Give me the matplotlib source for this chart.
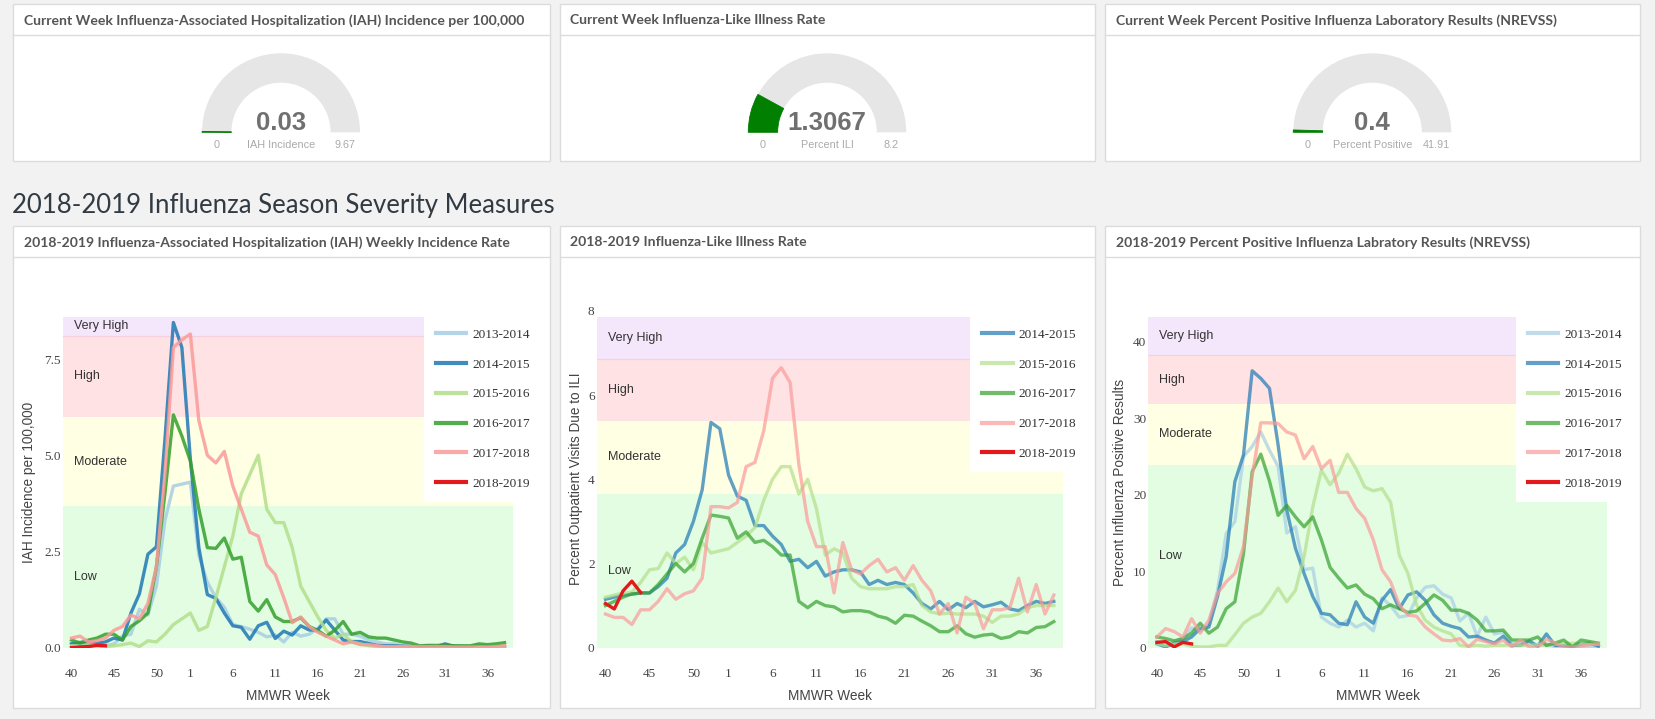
import matplotlib
matplotlib.use('Agg')
import matplotlib.pyplot as plt
from matplotlib.patches import Rectangle, Wedge

W, H = 1655, 719

# x axis: MMWR weeks 40..53 then 1..38
week_labels = list(range(40, 54)) + list(range(1, 39))
tick_weeks = [40, 45, 50, 1, 6, 11, 16, 21, 26, 31, 36]

seasons = ['2013-2014', '2014-2015', '2015-2016', '2016-2017', '2017-2018', '2018-2019']
season_colors = ['#a6cee3', '#1f78b4', '#b2df8a', '#33a02c', '#fb9a99', '#e31a1c']

# Gauges (current week)
gauge_titles = ['Current Week Influenza-Associated Hospitalization (IAH) Incidence per 100,000',
                'Current Week Influenza-Like Illness Rate',
                'Current Week Percent Positive Influenza Laboratory Results (NREVSS)']
gauge_values = [0.03, 1.3067, 0.4]
gauge_max = [9.67, 8.2, 41.91]
gauge_labels = ['IAH Incidence', 'Percent ILI', 'Percent Positive']

# Chart 1: IAH weekly incidence rate
iah = {
    '2013-2014': [0.1, 0.15, 0.18, 0.1, 0.05, 0.1, 0.3, 0.35, 1.0, 0.85, 1.6, 3.3, 4.2, 4.25, 4.3, 2.4, 1.7, 1.3, 1.05, 0.6,
                  0.55, 0.48, 0.4, 0.28, 0.33, 0.15, 0.4, 0.3, 0.35, 0.5, 0.75, 0.75, 0.35, 0.35, 0.3, 0.2, 0.15, 0.1, 0.1, 0.05,
                  0.04, 0.03, 0.03, 0.03, 0.03, 0.03, 0.03, 0.02, 0.02, 0.02, 0.03, 0.03],
    '2014-2015': [0.1, 0.12, 0.1, 0.12, 0.15, 0.25, 0.2, 0.9, 1.4, 2.43, 2.62, 5.4, 8.45, 7.8, 4.9, 2.6, 1.38, 1.28, 0.9, 0.57,
                  0.53, 0.22, 0.57, 0.66, 0.24, 0.43, 0.33, 0.57, 0.46, 0.46, 0.72, 0.46, 0.2, 0.16, 0.16, 0.11, 0.06, 0.05, 0.05, 0.04,
                  0.03, 0.03, 0.05, 0.03, 0.1, 0.04, 0.03, 0.03, 0.04, 0.03, 0.03, 0.03],
    '2015-2016': [0.05, 0.05, 0.08, 0.05, 0.03, 0.05, 0.08, 0.12, 0.03, 0.18, 0.15, 0.35, 0.6, 0.75, 0.9, 0.45, 0.55, 1.3, 2.1, 2.9,
                  4.0, 4.5, 5.0, 3.6, 3.25, 3.25, 2.6, 1.6, 1.2, 0.8, 0.45, 0.25, 0.35, 0.15, 0.1, 0.05, 0.03, 0.02, 0.02, 0.02,
                  0.02, 0.02, 0.02, 0.02, 0.02, 0.02, 0.02, 0.02, 0.02, 0.02, 0.02, 0.03],
    '2016-2017': [0.2, 0.12, 0.2, 0.25, 0.35, 0.35, 0.2, 0.55, 0.7, 0.9, 2.1, 4.0, 6.05, 5.5, 4.85, 3.6, 2.6, 2.58, 2.85, 2.3,
                  2.35, 1.2, 0.95, 1.25, 0.8, 0.68, 0.68, 0.78, 0.55, 0.45, 0.3, 0.45, 0.68, 0.35, 0.4, 0.28, 0.25, 0.25, 0.2, 0.15,
                  0.12, 0.05, 0.06, 0.06, 0.06, 0.05, 0.05, 0.05, 0.1, 0.08, 0.1, 0.13],
    '2017-2018': [0.25, 0.3, 0.15, 0.18, 0.25, 0.45, 0.55, 0.85, 0.75, 1.15, 2.1, 4.5, 7.8, 8.0, 8.15, 5.9, 5.0, 4.8, 5.1, 4.2,
                  3.6, 3.0, 2.9, 2.15, 1.9, 1.3, 0.65, 0.8, 0.55, 0.4, 0.3, 0.2, 0.1, 0.15, 0.08, 0.08, 0.05, 0.03, 0.03, 0.03,
                  0.03, 0.03, 0.03, 0.03, 0.03, 0.02, 0.02, 0.02, 0.02, 0.02, 0.03, 0.05],
    '2018-2019': [0.0, 0.02, 0.03, 0.06, 0.05],
}

# Chart 2: ILI rate
ili = {
    '2014-2015': [1.15, 1.2, 1.25, 1.27, 1.3, 1.3, 1.45, 1.65, 2.25, 2.45, 3.0, 3.75, 5.35, 5.2, 4.1, 3.6, 3.5, 2.9, 2.9, 2.65,
                  2.45, 2.05, 2.1, 1.9, 2.05, 1.7, 1.8, 1.85, 1.85, 1.8, 1.5, 1.6, 1.5, 1.55, 1.5, 1.3, 1.05, 0.92, 1.1, 0.9,
                  1.05, 0.95, 1.1, 0.97, 1.02, 1.08, 0.92, 0.88, 1.0, 1.1, 1.05, 1.1],
    '2015-2016': [1.2, 1.25, 1.3, 1.32, 1.55, 1.85, 1.88, 2.25, 2.0, 2.15, 1.85, 2.5, 2.25, 2.3, 2.35, 2.5, 2.65, 2.85, 3.5, 4.0,
                  4.3, 4.3, 3.65, 4.0, 3.3, 2.2, 2.35, 2.25, 1.65, 1.45, 1.4, 1.4, 1.4, 1.45, 1.45, 1.5, 1.0, 0.85, 0.8, 0.82,
                  0.8, 0.8, 0.8, 0.75, 0.6, 0.75, 0.75, 0.8, 0.95, 1.0, 1.0, 1.0],
    '2016-2017': [1.0, 1.1, 1.2, 1.28, 1.3, 1.3, 1.5, 1.75, 2.0, 1.8, 2.0, 2.6, 3.15, 3.12, 3.08, 2.6, 2.75, 2.5, 2.55, 2.4,
                  2.2, 2.2, 1.1, 0.95, 1.1, 1.0, 0.97, 0.85, 0.88, 0.88, 0.85, 0.75, 0.7, 0.58, 0.77, 0.75, 0.63, 0.52, 0.38, 0.38,
                  0.52, 0.33, 0.25, 0.3, 0.32, 0.22, 0.26, 0.38, 0.35, 0.48, 0.5, 0.62],
    '2017-2018': [0.8, 0.72, 0.72, 0.55, 0.9, 0.9, 1.1, 1.4, 1.15, 1.28, 1.35, 1.65, 3.35, 3.35, 3.32, 3.45, 4.3, 4.4, 5.15, 6.4,
                  6.65, 6.3, 4.35, 3.0, 2.4, 2.4, 1.3, 2.5, 1.85, 1.75, 1.95, 2.1, 1.8, 1.9, 1.6, 1.95, 1.6, 1.35, 0.8, 1.05,
                  0.35, 1.2, 1.05, 0.45, 0.9, 0.9, 0.95, 1.65, 0.85, 1.5, 0.8, 1.25],
    '2018-2019': [1.05, 0.92, 1.35, 1.58, 1.31],
}

# Chart 3: percent positive (NREVSS)
pos = {
    '2013-2014': [0.8, 0.4, 0.8, 1.2, 2.6, 2.2, 3.0, 7.5, 14.9, 16.5, 25.0, 26.3, 28.2, 25.8, 23.7, 15.0, 15.8, 10.2, 10.4, 4.0,
                  3.2, 2.7, 3.6, 2.7, 3.2, 2.2, 6.5, 5.5, 4.0, 4.2, 6.5, 7.9, 8.1, 7.0, 6.5, 3.5, 4.5, 1.5, 4.0, 1.8,
                  2.0, 0.5, 0.6, 0.5, 0.2, 0.5, 0.1, 0.1, 0.1, 0.2, 0.1, 0.1],
    '2014-2015': [0.5, 0.1, 0.6, 0.8, 1.4, 2.5, 2.7, 6.7, 11.9, 21.7, 25.2, 36.2, 35.2, 33.9, 26.5, 18.0, 13.0, 9.7, 6.7, 4.5,
                  4.3, 3.2, 3.0, 6.0, 4.0, 3.2, 6.2, 7.6, 5.1, 6.9, 7.3, 6.2, 4.3, 3.2, 2.8, 2.5, 1.4, 1.5, 1.0, 0.6,
                  1.5, 0.3, 0.3, 0.9, 0.2, 1.8, 0.3, 0.3, 0.1, 0.5, 0.6, 0.2],
    '2015-2016': [0.5, 0.3, 0.5, 0.5, 0.2, 0.1, 0.1, 0.3, 0.3, 1.7, 3.2, 4.0, 4.5, 6.0, 7.8, 6.0, 7.5, 11.9, 18.4, 23.2,
                  21.3, 22.8, 25.3, 23.4, 21.0, 20.5, 20.8, 19.0, 12.1, 9.7, 5.6, 3.6, 2.7, 2.2, 1.8, 0.3, 0.2, 0.3, 0.2, 0.3,
                  0.3, 0.4, 0.3, 0.3, 0.4, 0.3, 0.5, 0.5, 0.6, 0.5, 0.5, 0.5],
    '2016-2017': [1.4, 1.2, 0.9, 1.2, 1.9, 3.2, 1.9, 2.7, 5.1, 6.0, 12.3, 23.0, 25.3, 21.8, 17.3, 18.6, 17.1, 15.8, 17.1, 14.1,
                  10.5, 9.1, 7.8, 8.2, 7.0, 6.4, 5.1, 5.6, 5.1, 4.6, 4.8, 5.8, 6.9, 6.2, 4.9, 4.9, 4.5, 3.6, 2.2, 2.2,
                  2.3, 1.0, 1.0, 1.0, 1.4, 0.3, 0.6, 1.0, 0.1, 1.0, 0.8, 0.6],
    '2017-2018': [1.4, 2.5, 2.1, 1.4, 3.8, 1.9, 3.6, 7.1, 8.6, 9.7, 13.2, 22.4, 29.4, 29.4, 29.3, 28.2, 27.8, 24.7, 26.3, 23.4,
                  24.5, 20.3, 20.3, 18.2, 16.9, 14.1, 10.2, 8.6, 5.6, 4.3, 4.1, 2.7, 1.8, 1.0, 0.9, 1.2, 0.1, 1.1, 0.8, 0.5,
                  1.0, 0.1, 1.0, 0.1, 0.1, 1.1, 0.6, 0.1, 0.1, 0.2, 0.4, 0.5],
    '2018-2019': [0.7, 0.8, 0.1, 0.7, 0.5],
}

chart_titles = ['2018-2019 Influenza-Associated Hospitalization (IAH) Weekly Incidence Rate',
                '2018-2019 Influenza-Like Illness Rate',
                '2018-2019 Percent Positive Influenza Labratory Results (NREVSS)']
chart_ylabels = ['IAH Incidence per 100,000', 'Percent Outpatient Visits Due to ILI', 'Percent Influenza Positive Results']
chart_data = [iah, ili, pos]
severity_names = ['Low', 'Moderate', 'High', 'Very High']
severity_edges = [[0, 3.67, 6.0, 8.1, 8.6],
                  [0, 3.65, 5.39, 6.85, 7.86],
                  [0, 23.88, 31.9, 38.22, 43.27]]
chart_ylims = [8.6, 8.02, 43.27]
chart_yticks = [[0, 2.5, 5.0, 7.5], [0, 2, 4, 6, 8], [0, 10, 20, 30, 40]]
chart_yticklabels = [['0.0', '2.5', '5.0', '7.5'], ['0', '2', '4', '6', '8'], ['0', '10', '20', '30', '40']]
band_colors = ['#e3fde3', '#ffffe4', '#ffe2e4', '#f4e6fb']

# ---- layout (pixels) ----
bg_color = '#f2f2f2'
panel_x = [(12.5, 549.5), (559.5, 1095), (1104.5, 1640)]
axes_px = [(63, 513, 316.7, 647.7), (596.7, 1062.6, 310, 647.7), (1148.3, 1607, 316.7, 647.7)]
ylabel_dx = [33.5, 21, 28]

fig = plt.figure(figsize=(W / 100, H / 100), dpi=100, facecolor=bg_color)
bg = fig.add_axes([0, 0, 1, 1])
bg.set_xlim(0, W)
bg.set_ylim(H, 0)
bg.axis('off')

def panel(x0, x1, y0, y1, y_div, title, fsize):
    bg.add_patch(Rectangle((x0, y0), x1 - x0, y1 - y0, facecolor='white', edgecolor='#dcdcdc', lw=1))
    bg.plot([x0, x1], [y_div, y_div], color='#dcdcdc', lw=1)
    bg.text(x0 + 11, (y0 + y_div) / 2 + 1, title, family='Lato', weight='bold', fontsize=fsize,
            color='#555555', va='center', ha='left')

# top row: gauges
for i in range(3):
    x0, x1 = panel_x[i]
    panel(x0, x1, 4, 161, 35, gauge_titles[i], 10.1)
    cx, cy = (x0 + x1) / 2, 132.3
    r_out, r_in = 79, 49.6
    bg.add_patch(Wedge((cx, cy), r_out, 180, 360, width=r_out - r_in, facecolor='#e6e6e6', edgecolor='none'))
    frac = gauge_values[i] / gauge_max[i]
    bg.add_patch(Wedge((cx, cy), r_out, 180, 180 + 180 * frac, width=r_out - r_in, facecolor='#007f00',
                       edgecolor='#007f00', lw=0.6))
    bg.text(cx, 130, str(gauge_values[i]), family='Liberation Sans', weight='bold', fontsize=18.5,
            color='#707070', ha='center', va='baseline')
    mid = (r_out + r_in) / 2
    bg.text(cx - mid, 148, '0', family='Liberation Sans', fontsize=7.8, color='#aaaaaa', ha='center', va='baseline')
    bg.text(cx + mid, 148, str(gauge_max[i]), family='Liberation Sans', fontsize=7.8, color='#aaaaaa',
            ha='center', va='baseline')
    bg.text(cx, 148, gauge_labels[i], family='Liberation Sans', fontsize=7.8, color='#aaaaaa',
            ha='center', va='baseline')

bg.text(12.5, 213, '2018-2019 Influenza Season Severity Measures', family='Lato', fontsize=18.5,
        color='#323b44', ha='left', va='baseline')

x_idx = list(range(len(week_labels)))
tick_pos = [week_labels.index(w) for w in tick_weeks]

for i in range(3):
    x0, x1 = panel_x[i]
    panel(x0, x1, 226, 708, 257, chart_titles[i], 10.1)
    l, r, t, b = axes_px[i]
    ax = fig.add_axes([l / W, 1 - b / H, (r - l) / W, (b - t) / H])
    ax.set_facecolor('none')
    edges = severity_edges[i]
    for k in range(4):
        ax.axhspan(edges[k], edges[k + 1], facecolor=band_colors[k], edgecolor='none', zorder=0)
        ax.text(11 / (r - l), (edges[k] + edges[k + 1]) / 2, severity_names[k], transform=ax.get_yaxis_transform(),
                family='Liberation Sans', fontsize=9.0, color='#333333', va='center', ha='left', zorder=1)
    ax.axhline(edges[3], color='#f6cfe0', lw=0.8, zorder=0.5)

    data = chart_data[i]
    alpha = 0.85 if i == 0 else 0.7
    for s, c in zip(seasons, season_colors):
        if s not in data:
            continue
        vals = data[s]
        ax.plot(x_idx[:len(vals)], vals, color=c, lw=2.4, label=s,
                alpha=1.0 if s == '2018-2019' else alpha, zorder=3 if s == '2018-2019' else 2,
                solid_joinstyle='round')

    ax.set_xlim(-1, 52)
    ax.set_ylim(0, chart_ylims[i])
    ax.set_xticks(tick_pos)
    ax.set_xticklabels([str(w) for w in tick_weeks])
    ax.set_yticks(chart_yticks[i])
    ax.set_yticklabels(chart_yticklabels[i])
    for sp in ax.spines.values():
        sp.set_visible(False)
    ax.tick_params(axis='both', length=0, labelsize=9.5, labelcolor='#444444')
    ax.tick_params(axis='x', pad=14.5)
    ax.tick_params(axis='y', pad=1.5)
    for lab in ax.get_xticklabels() + ax.get_yticklabels():
        lab.set_family('Liberation Serif')

    ax.set_xlabel('MMWR Week', family='Liberation Sans', fontsize=9.8, color='#444444')
    ax.xaxis.label.set_va('center')
    ax.xaxis.set_label_coords(0.5, -(696 - b) / (b - t))
    ax.set_ylabel(chart_ylabels[i], family='Liberation Sans', fontsize=9.8, color='#444444')
    ax.yaxis.label.set_va('center')
    ax.yaxis.set_label_coords(-ylabel_dx[i] / (r - l), 0.5)

    top_frac = (b - 316.7) / (b - t)
    leg = ax.legend(loc='upper left', bbox_to_anchor=(0.802, top_frac), frameon=True, fancybox=False,
                    facecolor='white', edgecolor='none', framealpha=1.0, borderaxespad=0,
                    prop={'family': 'Liberation Serif', 'size': 9.5}, handlelength=2.3,
                    handletextpad=0.45, labelspacing=1.33, borderpad=0.9)
    for txt in leg.get_texts():
        txt.set_color('#333333')
    for ln in leg.get_lines():
        ln.set_linewidth(3.0)

fig.savefig('out.png', dpi=100, facecolor=bg_color)
